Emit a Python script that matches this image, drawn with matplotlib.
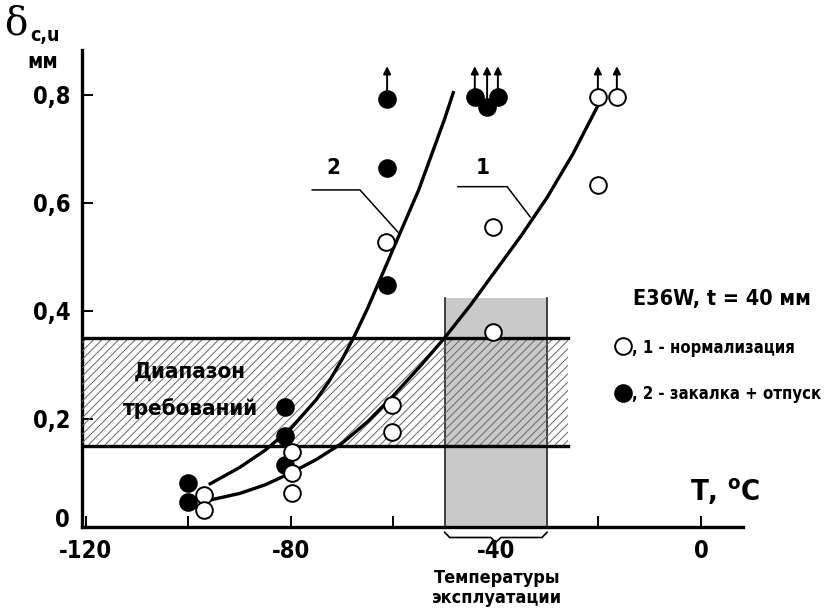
import matplotlib
matplotlib.use("Agg")
import matplotlib.pyplot as plt
from matplotlib.patches import Rectangle
from matplotlib.transforms import blended_transform_factory

plt.rcParams['font.family'] = ['DejaVu Sans']
plt.rcParams['font.stretch'] = 'condensed'
plt.rcParams['font.weight'] = 'bold'
plt.rcParams['hatch.linewidth'] = 0.7

# open circles: 1 - normalization
open_T = [-96.9, -96.9, -79.7, -79.7, -79.7, -60.2, -60.2, -61.4, -40.5, -40.5, -20.1, -20.1, -16.4]
open_d = [0.059, 0.031, 0.139, 0.100, 0.063, 0.226, 0.176, 0.528, 0.556, 0.361, 0.633, 0.796, 0.796]
# filled circles: 2 - quench + temper
fill_T = [-100.0, -100.0, -81.1, -81.1, -81.1, -61.2, -61.2, -61.2, -44.1, -41.7, -39.6]
fill_d = [0.081, 0.046, 0.222, 0.168, 0.115, 0.448, 0.665, 0.793, 0.796, 0.778, 0.796]
# points marked with arrows (specimen not broken)
arrow_T = [-61.2, -44.1, -41.7, -39.6, -20.1, -16.4]
arrow_d = [0.793, 0.796, 0.778, 0.796, 0.796, 0.796]

# trend curves
curve1_T = [-95.7, -90, -85, -80, -75, -70, -65, -60, -55, -50, -45, -40, -35, -30, -25, -20.1]
curve1_d = [0.050, 0.062, 0.078, 0.100, 0.125, 0.155, 0.195, 0.243, 0.295, 0.350, 0.410, 0.475, 0.540, 0.610, 0.690, 0.780]
curve2_T = [-95.7, -90, -85, -80, -75, -72.5, -70, -67.5, -65, -60, -55, -50, -48.3]
curve2_d = [0.080, 0.110, 0.142, 0.182, 0.236, 0.270, 0.310, 0.355, 0.405, 0.515, 0.625, 0.755, 0.804]

req_lo, req_hi, req_T_end = 0.15, 0.35, -26.0
oper_T = (-50, -30)
oper_top = 0.424

xticks = [-120, -100, -80, -60, -40, -20, 0]
xlabels = ['-120', '', '-80', '', '-40', '', '0']
yticks = [0.2, 0.4, 0.6, 0.8]
ylabels = ['0,2', '0,4', '0,6', '0,8']

W, H = 827, 608
fig = plt.figure(figsize=(W / 100, H / 100), dpi=100)
ax = fig.add_axes([82 / W, 81 / H, (743 - 82) / W, (527 - 50) / H])
ax.set_xlim(-120.7, 8.2)
ax.set_ylim(0, 0.883)

for s in ['top', 'right']:
    ax.spines[s].set_visible(False)
for s in ['left', 'bottom']:
    ax.spines[s].set_linewidth(2.4)

ax.set_xticks(xticks)
ax.set_xticklabels(xlabels, fontsize=17, fontweight='bold')
ax.set_yticks(yticks)
ax.set_yticklabels(ylabels, fontsize=17, fontweight='bold')
ax.tick_params(axis='x', direction='in', length=8, width=1.4, pad=9)
ax.tick_params(axis='y', direction='in', length=8, width=1.4, pad=8)

# requirements band
ax.add_patch(Rectangle((-120.7, req_lo), req_T_end + 120.7, req_hi - req_lo,
                       facecolor='white', edgecolor='none', zorder=1))
# operating temperature range
ax.add_patch(Rectangle((oper_T[0], 0), oper_T[1] - oper_T[0], oper_top,
                       facecolor='#c9c9c9', edgecolor='none', zorder=2))
ax.plot([oper_T[0], oper_T[0]], [0, oper_top], color='#333333', lw=1.3, zorder=2.5)
ax.plot([oper_T[1], oper_T[1]], [0, oper_top], color='#333333', lw=1.3, zorder=2.5)
ax.add_patch(Rectangle((-120.7, req_lo), req_T_end + 120.7, req_hi - req_lo,
                       facecolor='none', edgecolor='#666666', linewidth=0,
                       hatch='////', zorder=3))
ax.plot([-120.7, req_T_end], [req_lo, req_lo], color='black', lw=2.4, zorder=4)
ax.plot([-120.7, req_T_end], [req_hi, req_hi], color='black', lw=2.4, zorder=4)

ax.text(-99.6, 0.288, 'Диапазон', fontsize=16, fontweight='bold', ha='center', va='center', zorder=5)
ax.text(-99.6, 0.220, 'требований', fontsize=16, fontweight='bold', ha='center', va='center', zorder=5)

# curves
ax.plot(curve1_T, curve1_d, color='black', lw=2.4, zorder=5)
ax.plot(curve2_T, curve2_d, color='black', lw=2.4, zorder=5)

# leaders and curve numbers
ax.plot([-75.8, -66.5, -59.1], [0.624, 0.624, 0.546], color='black', lw=1.1, zorder=5)
ax.text(-71.7, 0.665, '2', fontsize=16, fontweight='bold', ha='center', va='center')
ax.plot([-47.4, -37.8, -33.3], [0.630, 0.630, 0.574], color='black', lw=1.1, zorder=5)
ax.text(-42.5, 0.665, '1', fontsize=16, fontweight='bold', ha='center', va='center')

# arrows
for t, d in zip(arrow_T, arrow_d):
    ax.annotate('', xy=(t, 0.853), xytext=(t, d),
                arrowprops=dict(arrowstyle='-|>', color='black', lw=1.4,
                                mutation_scale=11, shrinkA=0, shrinkB=0),
                zorder=6)

# data points
ax.plot(fill_T, fill_d, 'o', ms=12, mfc='black', mec='black', mew=1.4, zorder=7)
ax.plot(open_T, open_d, 'o', ms=12, mfc='white', mec='black', mew=1.4, zorder=7)

# bracket under the operating range
tr = blended_transform_factory(ax.transData, ax.transAxes)
bx = [-50, -49, -41, -40, -39, -31, -30]
by = [-0.011, -0.022, -0.022, -0.032, -0.022, -0.022, -0.011]
ax.plot(bx, by, color='black', lw=1.2, transform=tr, clip_on=False)

# texts in figure pixels
def ftext(x, y, s, **kw):
    fig.text(x / W, 1 - y / H, s, **kw)

ftext(62, 520, '0', fontsize=17, fontweight='bold', ha='center', va='center')
ftext(497, 578, 'Температуры', fontsize=13, fontweight='bold', ha='center', va='center')
ftext(497, 598, 'эксплуатации', fontsize=13, fontweight='bold', ha='center', va='center')
ftext(690, 492, 'T, $^{\\rm o}$C', fontsize=21, fontweight='bold', ha='left', va='center')
ftext(4, 24, 'δ', fontsize=28, fontweight='normal', family='DejaVu Serif',
      stretch='normal', ha='left', va='center')
ftext(30, 36, 'c,u', fontsize=14, fontweight='bold', ha='left', va='center')
ftext(27, 62, 'мм', fontsize=15, fontweight='bold', ha='left', va='center')

ftext(633, 299, 'E36W, t = 40 мм', fontsize=15.5, fontweight='bold', ha='left', va='center')
ftext(632, 348, ', 1 - нормализация', fontsize=12, fontweight='bold', ha='left', va='center')
ftext(632, 394, ', 2 - закалка + отпуск', fontsize=12, fontweight='bold', ha='left', va='center')
ax.plot([623 / W], [1 - 346 / H], 'o', ms=12, mfc='white', mec='black', mew=1.4,
        transform=fig.transFigure, clip_on=False)
ax.plot([623 / W], [1 - 393 / H], 'o', ms=12, mfc='black', mec='black', mew=1.4,
        transform=fig.transFigure, clip_on=False)

fig.savefig('out.png', dpi=100)
